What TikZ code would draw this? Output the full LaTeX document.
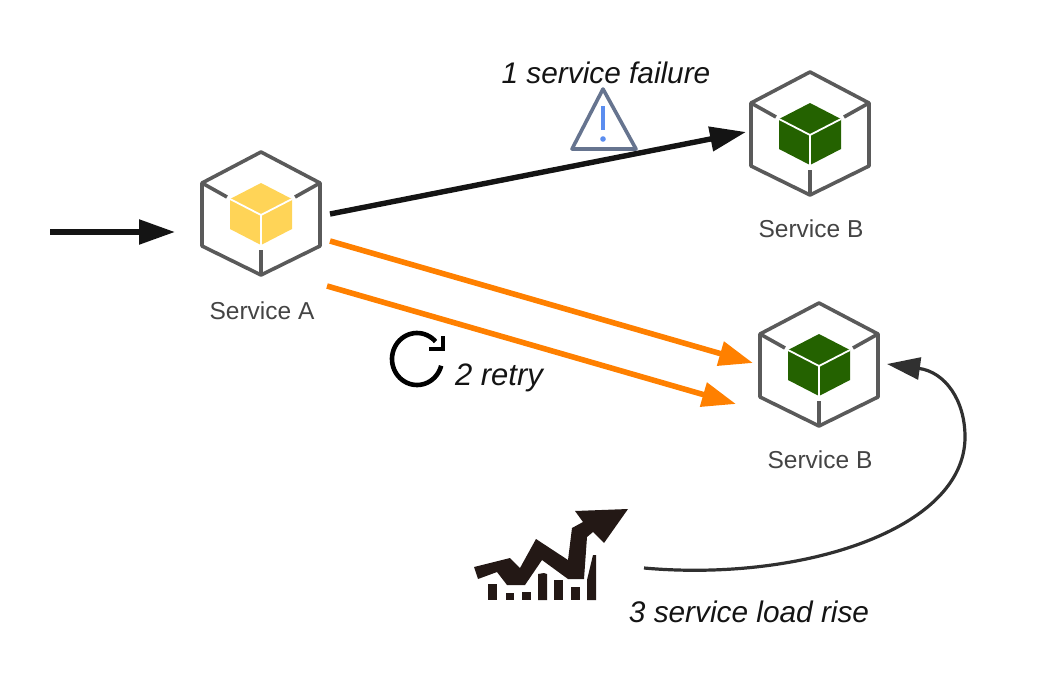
\documentclass[tikz,border=0pt]{standalone}
\usepackage{fontspec}
\setmainfont{Liberation Sans}
\usetikzlibrary{arrows.meta}
\definecolor{hexgrey}{HTML}{5A5A5A}
\definecolor{cubeyellow}{HTML}{FFD457}
\definecolor{cubegreen}{HTML}{246200}
\definecolor{arrorange}{HTML}{FF8000}
\definecolor{arrblack}{HTML}{141414}
\definecolor{curvegrey}{HTML}{303030}
\definecolor{chartink}{HTML}{231815}
\definecolor{warngrey}{HTML}{66748F}
\definecolor{warnblue}{HTML}{5B8DEF}
\definecolor{labelgrey}{HTML}{444444}
\tikzset{
  x=1pt,y=-1pt,
  svc/.style={font=\fontsize{24.5}{26}\selectfont,text=labelgrey,inner sep=0pt},
  caption/.style={font=\itshape\fontsize{29.8}{32}\selectfont,text=arrblack,inner sep=0pt},
  flow/.style={line width=5.4pt,color=arrblack,-{Triangle[length=36pt,width=24pt]}},
  retryflow/.style={line width=5.6pt,color=arrorange,-{Triangle[length=34pt,width=24pt]}},
  loadflow/.style={line width=3.2pt,color=curvegrey,-{Triangle[length=33pt,width=22pt]}},
  hexline/.style={draw=hexgrey,line width=3.6pt,line join=round},
  pics/svcicon/.style={code={
    \draw[hexline] (0,-62)--(59,-31)--(59,32)--(0,61)--(-59,32)--(-59,-31)--cycle;
    \draw[hexline] (-59,-31)--(-34,-17) (59,-31)--(34,-17) (0,36)--(0,61);
    \fill[#1] (0,-31)--(31,-15)--(31,15)--(0,31)--(-31,15)--(-31,-15)--cycle;
    \draw[white,line width=1.8pt] (-31,-15)--(0,1)--(31,-15) (0,1)--(0,31);
  }}
}
\begin{document}
\begin{tikzpicture}
\useasboundingbox (0,0) rectangle (1064,680);
% service icons
\pic at (261,214) {svcicon=cubeyellow};
\pic at (810,134) {svcicon=cubegreen};
\pic at (819,365) {svcicon=cubegreen};
\node[svc] (labA) at (262,311) {Service A};
\node[svc] (labB1) at (811,229) {Service B};
\node[svc] (labB2) at (820,460) {Service B};
% connector ends
\coordinate (inStart) at (50,232);
\coordinate (inEnd) at (175,232);
\coordinate (failStart) at (330,214);
\coordinate (failEnd) at (746,132);
\coordinate (retryStartA) at (330,241);
\coordinate (retryEndA) at (753,363);
\coordinate (retryStartB) at (327,286);
\coordinate (retryEndB) at (736,404);
\coordinate (loadStart) at (644,568);
\coordinate (loadEnd) at (887,364);
\draw[flow] (inStart) -- (inEnd);
\draw[flow] (failStart) -- (failEnd);
\draw[retryflow] (retryStartA) -- (retryEndA);
\draw[retryflow] (retryStartB) -- (retryEndB);
\draw[loadflow] (loadStart) .. controls (800,582) and (965,530) .. (965,437)
  .. controls (965,400) and (945,372) .. (loadEnd);
% captions
\node[caption] (capFail) at (606,73) {1 service failure};
\node[caption,font=\itshape\fontsize{31}{33}\selectfont] (capRetry) at (499,378) {2 retry};
\node[caption] (capLoad) at (749,612) {3 service load rise};
% warning icon
\draw[warngrey,line width=3.6pt,line join=round] (603,89)--(636,149)--(572,149)--cycle;
\draw[warnblue,line width=3.6pt] (603,106)--(603,130);
\fill[warnblue] (603,139) circle[radius=2.8];
% retry icon
\draw[black,line width=4.6pt] plot[domain=15:318,samples=50] ({417+25*cos(\x)},{359+26*sin(\x)});
\draw[black,line width=3.6pt] (443,336)--(443,349)--(429,349);
% chart icon
\fill[chartink] (474,567)--(510,558)--(520,568)--(536,539)--(568,560)--(572,528)--(583,522)--(575,511)--(628,509)--(604,543)--(593,532)--(587,537)--(584,579)--(568,579)--(542,560)--(525,585)--(507,585)--(497,572)--(478,579)--cycle;
\fill[chartink] (488,584) rectangle (497,600);
\fill[chartink] (506,593) rectangle (514,600);
\fill[chartink] (522,592) rectangle (531,600);
\fill[chartink] (538,600)--(538,574)--(544,573)--(547,574)--(547,600)--cycle;
\fill[chartink] (554,580) rectangle (563,600);
\fill[chartink] (571,587) rectangle (580,600);
\fill[chartink] (587,600)--(587,580)--(593,555)--(596,555)--(596,600)--cycle;
\end{tikzpicture}
\end{document}
